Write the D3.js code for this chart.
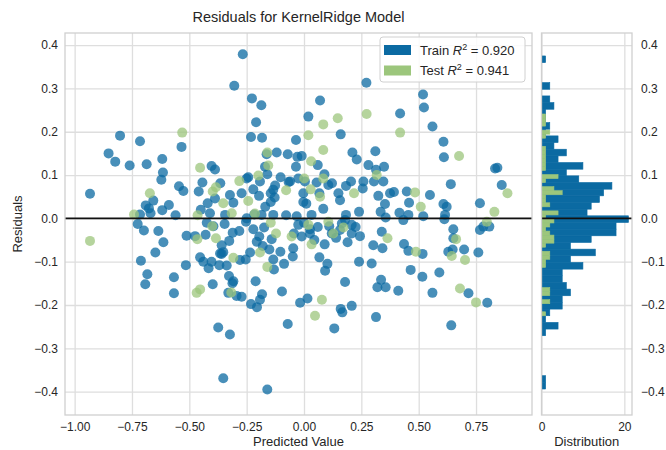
<!DOCTYPE html>
<html>
<head>
<meta charset="utf-8">
<script src="https://cdnjs.cloudflare.com/ajax/libs/d3/7.8.5/d3.min.js"></script>
<style>
  body { margin: 0; background: #fff; }
  text { font-family: "Liberation Sans", Arial, sans-serif; fill: #262626; }
</style>
</head>
<body>
<svg id="chart" width="666" height="450"></svg>
<script>
// predicted value, residual
var trainPoints = [
  [-0.267,0.379],[-0.304,0.306],[-0.227,0.277],[-0.186,0.261],[-0.209,0.222],[-0.231,0.188],[-0.183,0.186],[-0.035,0.181],
  [-0.802,0.191],[-0.715,0.178],[-0.534,0.165],[-0.852,0.150],[-0.823,0.131],[-0.760,0.122],[-0.686,0.125],[-0.618,0.137],
  [-0.615,0.106],[-0.622,0.089],[-0.403,0.121],[-0.388,0.113],[-0.163,0.148],[-0.119,0.152],[-0.071,0.148],[-0.029,0.142],
  [-0.170,0.119],[-0.035,0.119],[-0.243,0.095],[-0.250,0.092],[-0.160,0.102],[-0.102,0.095],[-0.192,0.085],[-0.067,0.084],
  [-0.025,0.092],[-0.933,0.057],[-0.545,0.074],[-0.526,0.063],[-0.443,0.083],[-0.459,0.062],[-0.365,0.081],[-0.420,0.035],
  [-0.388,0.046],[-0.323,0.054],[-0.308,0.036],[-0.272,0.058],[-0.221,0.067],[-0.196,0.052],[-0.145,0.058],[-0.126,0.076],
  [-0.134,0.066],[-0.061,0.085],[-0.657,0.041],[-0.676,0.023],[-0.618,0.019],[-0.589,0.031],[-0.715,0.009],[-0.669,0.012],
  [-0.344,0.008],[-0.217,0.009],[-0.185,0.008],[-0.134,0.008],[-0.078,0.007],[-0.032,0.005],[-0.145,0.038],[-0.169,0.027],
  [-0.128,0.048],[-0.690,0.030],[-0.560,0.007],[-0.450,0.020],[-0.410,0.012],
  [0.272,0.313],[0.070,0.272],[0.519,0.286],[0.523,0.256],[0.019,0.235],[0.419,0.242],[0.560,0.212],[0.160,0.194],
  [0.608,0.177],[0.610,0.141],[0.060,0.123],[0.211,0.152],[0.230,0.136],[0.311,0.155],[0.281,0.123],[0.314,0.112],
  [0.349,0.119],[0.089,0.102],[0.833,0.115],[0.843,0.117],[0.862,0.077],[0.640,0.079],[0.767,0.035],[0.004,0.085],
  [0.055,0.083],[0.106,0.077],[0.122,0.081],[0.183,0.075],[0.205,0.085],[0.259,0.085],[0.256,0.069],[0.305,0.085],
  [0.346,0.085],[-0.003,0.058],[0.067,0.058],[0.084,0.022],[0.150,0.058],[0.157,0.042],[0.240,0.015],[0.324,0.052],
  [0.353,0.033],[0.375,0.058],[0.392,0.061],[0.448,0.062],[0.458,0.036],[0.549,0.054],[0.608,0.033],[0.622,0.027],
  [0.033,0.008],[0.183,0.008],[0.334,0.015],[0.416,0.013],[0.455,0.008],[0.520,0.005],[0.615,0.008],[-0.003,0.038],
  [0.010,0.034],[-0.010,0.144],
  [0.356,0.002],[0.433,-0.004],[0.767,-0.027],[0.782,-0.019],[0.808,-0.019],[0.612,-0.002],[0.651,-0.025],[0.651,-0.046],
  [0.629,-0.077],[0.648,-0.072],[0.698,-0.072],[0.760,-0.079],[0.590,-0.125],[0.516,-0.135],[0.465,-0.119],[0.436,-0.059],
  [0.455,-0.075],[0.517,-0.082],[0.717,-0.173],[0.799,-0.195],[0.560,-0.172],[0.411,-0.167],[0.320,-0.159],[0.336,-0.142],
  [0.356,-0.159],[0.295,-0.104],[0.240,-0.100],[0.302,-0.062],[0.342,-0.069],[0.339,-0.031],[0.314,-0.228],[0.642,-0.247],
  [0.208,-0.202],[0.160,-0.209],[0.167,-0.217],[0.132,-0.254],[0.179,-0.147],[0.015,-0.185],[-0.017,-0.195],[0.092,-0.121],
  [0.102,-0.105],[0.067,-0.090],[0.208,-0.015],[0.244,-0.041],[0.179,-0.004],[0.165,-0.012],[0.157,-0.027],[0.121,-0.035],
  [0.026,-0.035],[0.026,-0.025],[-0.010,-0.042],[0.208,-0.035],[0.000,-0.010],[0.045,-0.050],[0.060,-0.020],[0.110,-0.018],
  [0.140,-0.045],[0.190,-0.055],[0.225,-0.020],[0.090,-0.060],
  [-0.711,-0.098],[-0.683,-0.129],[-0.692,-0.152],[-0.648,-0.079],[-0.613,-0.055],[-0.635,-0.029],[-0.698,-0.028],[-0.725,-0.013],
  [-0.567,-0.136],[-0.567,-0.173],[-0.515,-0.108],[-0.512,-0.040],[-0.475,-0.041],[-0.429,-0.038],[-0.453,-0.090],[-0.439,-0.100],
  [-0.416,-0.115],[-0.403,-0.100],[-0.369,-0.108],[-0.337,-0.109],[-0.366,-0.081],[-0.352,-0.078],[-0.326,-0.052],[-0.395,-0.018],
  [-0.424,-0.010],[-0.346,-0.013],[-0.311,-0.033],[-0.282,-0.029],[-0.398,-0.152],[-0.308,-0.145],[-0.312,-0.150],[-0.330,-0.172],
  [-0.294,-0.179],[-0.272,-0.181],[-0.279,-0.096],[-0.254,-0.095],[-0.235,-0.079],[-0.131,-0.118],[-0.211,-0.145],[-0.183,-0.175],
  [-0.192,-0.188],[-0.231,-0.198],[-0.205,-0.205],[-0.096,-0.169],[-0.071,-0.244],[-0.374,-0.252],[-0.323,-0.268],[-0.352,-0.369],
  [-0.160,-0.395],[-0.253,-0.008],[-0.221,-0.025],[-0.174,-0.021],[-0.195,-0.042],[-0.206,-0.054],[-0.180,-0.064],[-0.151,-0.072],
  [-0.141,-0.048],[-0.103,-0.077],[-0.134,-0.095],[-0.087,-0.105],[-0.049,-0.088],[-0.047,-0.069],[-0.044,-0.035],[-0.025,-0.015],
  [-0.250,0.000],[-0.359,-0.062],[-0.359,-0.082],[-0.327,-0.133]
];

var testPoints = [
  [-0.531,0.198],[-0.453,0.117],[-0.160,0.152],[-0.156,0.122],[-0.282,0.086],[-0.199,0.099],[-0.398,0.062],[-0.384,0.072],
  [-0.352,0.035],[-0.243,0.040],[-0.078,0.065],[-0.672,0.058],[-0.741,0.009],[-0.464,0.007],[-0.315,0.012],[-0.214,0.011],
  [0.273,0.241],[0.147,0.231],[0.084,0.217],[0.419,0.198],[0.019,0.192],[0.676,0.144],[0.084,0.158],[0.031,0.132],
  [0.317,0.100],[0.084,0.092],[0.830,0.015],[0.887,0.058],[0.001,0.092],[0.029,0.067],[0.070,0.050],[0.218,0.058],
  [0.484,0.060],[0.509,0.027],
  [0.797,-0.008],[0.663,-0.048],[0.644,-0.087],[0.702,-0.096],[0.488,-0.077],[0.680,-0.162],[0.750,-0.194],[0.364,-0.046],
  [0.078,-0.188],[0.048,-0.225],[0.128,-0.035],[0.172,-0.021],[0.106,-0.008],[0.033,-0.060],[-0.054,-0.042],[0.019,-0.015],
  [-0.933,-0.052],[-0.465,-0.048],[-0.308,-0.091],[-0.384,-0.046],[-0.400,-0.018],[-0.453,-0.164],[-0.468,-0.172],[-0.317,-0.171],
  [-0.192,-0.079],[-0.160,-0.112],[-0.145,-0.010],[-0.122,-0.035]
];

// train residual histogram, 50 bins, lowest bin first
var trainHistCounts = [1,1,0,0,0,0,0,0,1,4,1,2,5,5,7,6,5,5,10,7,13,7,12,18,18,21,11,12,14,15,17,9,6,10,4,6,3,4,1,2,1,1,3,2,0,2,0,0,0,1];
var trainHistRange = [-0.394, 0.375];
var histBins = 50;

var xTicks = [-1.00, -0.75, -0.50, -0.25, 0.00, 0.25, 0.50, 0.75];
var yTicks = [-0.4, -0.3, -0.2, -0.1, 0.0, 0.1, 0.2, 0.3, 0.4];
var histTicks = [0, 20];
var legendItems = [["Train", "0.920"], ["Test", "0.941"]];

var trainColor = "#0b6aa2", testColor = "#9cc67c";

var svg = d3.select("#chart");
var plot = {left: 65, right: 532, top: 33, bottom: 415};
var hist = {left: 541.5, right: 632};

var x = d3.scaleLinear().domain([-1.042, 0.994]).range([plot.left, plot.right]);
var y = d3.scaleLinear().domain([-0.454, 0.428]).range([plot.bottom, plot.top]);
var hx = d3.scaleLinear().domain([0, 21.85]).range([hist.left, hist.right]);

var gridColor = "#dedede", frameColor = "#d0d0d0";

////////////// GRIDS
function grid(g) { g.select(".domain").remove(); g.selectAll("line").attr("stroke", gridColor).attr("stroke-width", 1.3); }

svg.append("g")
  .attr("transform", "translate(0," + plot.bottom + ")")
  .call(d3.axisBottom(x).tickValues(xTicks).tickSize(-(plot.bottom - plot.top)).tickFormat(""))
  .call(grid);

svg.append("g")
  .attr("transform", "translate(" + plot.left + ",0)")
  .call(d3.axisLeft(y).tickValues(yTicks).tickSize(-(plot.right - plot.left)).tickFormat(""))
  .call(grid);

svg.append("g")
  .attr("transform", "translate(0," + plot.bottom + ")")
  .call(d3.axisBottom(hx).tickValues(histTicks).tickSize(-(plot.bottom - plot.top)).tickFormat(""))
  .call(grid);

svg.append("g")
  .attr("transform", "translate(" + hist.left + ",0)")
  .call(d3.axisLeft(y).tickValues(yTicks).tickSize(-(hist.right - hist.left)).tickFormat(""))
  .call(grid);

////////////// HISTOGRAMS
var binW = (trainHistRange[1] - trainHistRange[0]) / histBins;
svg.append("g").selectAll("rect")
  .data(trainHistCounts.map(function (c, i) { return {x0: trainHistRange[0] + i * binW, x1: trainHistRange[0] + (i + 1) * binW, n: c}; })
    .filter(function (d) { return d.n > 0; }))
  .join("rect")
  .attr("x", hx(0))
  .attr("y", function (d) { return y(d.x1); })
  .attr("width", function (d) { return hx(d.n) - hx(0); })
  .attr("height", function (d) { return y(d.x0) - y(d.x1); })
  .style("fill", trainColor)
  .style("stroke", trainColor)
  .style("stroke-width", 0.6);

var testRes = testPoints.map(function (d) { return d[1]; });
var tExt = d3.extent(testRes);
var tW = (tExt[1] - tExt[0]) / histBins;
var testBins = d3.bin().domain(tExt)
  .thresholds(d3.range(1, histBins).map(function (i) { return tExt[0] + i * tW; }))(testRes);

svg.append("g").selectAll("rect")
  .data(testBins.filter(function (b) { return b.length > 0; }))
  .join("rect")
  .attr("x", hx(0))
  .attr("y", function (d) { return y(d.x1); })
  .attr("width", function (d) { return hx(d.length) - hx(0); })
  .attr("height", function (d) { return y(d.x0) - y(d.x1); })
  .style("fill", testColor)
  .style("stroke", testColor)
  .style("stroke-width", 0.6);

////////////// SCATTER
svg.append("g").selectAll("circle")
  .data(trainPoints)
  .join("circle")
  .attr("cx", function (d) { return x(d[0]); })
  .attr("cy", function (d) { return y(d[1]); })
  .attr("r", 5)
  .style("fill", trainColor)
  .style("fill-opacity", 0.75);

svg.append("g").selectAll("circle")
  .data(testPoints)
  .join("circle")
  .attr("cx", function (d) { return x(d[0]); })
  .attr("cy", function (d) { return y(d[1]); })
  .attr("r", 5)
  .style("fill", testColor)
  .style("fill-opacity", 0.75);

////////////// ZERO LINES + FRAMES
[[plot.left, plot.right], [hist.left, hist.right]].forEach(function (p) {
  svg.append("line")
    .attr("x1", p[0]).attr("x2", p[1])
    .attr("y1", y(0)).attr("y2", y(0))
    .style("stroke", "#111").style("stroke-width", 1.8);
  svg.append("rect")
    .attr("x", p[0]).attr("y", plot.top)
    .attr("width", p[1] - p[0]).attr("height", plot.bottom - plot.top)
    .style("fill", "none").style("stroke", frameColor).style("stroke-width", 1.3);
});

////////////// TICK LABELS
function labels(g) { g.select(".domain").remove(); g.selectAll("line").remove(); g.selectAll("text").style("font-size", "12px").attr("fill", "#262626"); }

svg.append("g")
  .attr("transform", "translate(0," + plot.bottom + ")")
  .call(d3.axisBottom(x).tickValues(xTicks).tickSize(0).tickPadding(7).tickFormat(d3.format(".2f")))
  .call(labels);

svg.append("g")
  .attr("transform", "translate(" + plot.left + ",0)")
  .call(d3.axisLeft(y).tickValues(yTicks).tickSize(0).tickPadding(7).tickFormat(d3.format(".1f")))
  .call(labels);

svg.append("g")
  .attr("transform", "translate(0," + plot.bottom + ")")
  .call(d3.axisBottom(hx).tickValues(histTicks).tickSize(0).tickPadding(7).tickFormat(d3.format("d")))
  .call(labels);

svg.append("g")
  .attr("transform", "translate(" + hist.right + ",0)")
  .call(d3.axisRight(y).tickValues(yTicks).tickSize(0).tickPadding(9).tickFormat(d3.format(".1f")))
  .call(labels);

////////////// TITLES
svg.append("text")
  .attr("x", (plot.left + plot.right) / 2).attr("y", 22)
  .style("text-anchor", "middle").style("font-size", "14.5px")
  .text("Residuals for KernelRidge Model");

svg.append("text")
  .attr("x", (plot.left + plot.right) / 2).attr("y", 446)
  .style("text-anchor", "middle").style("font-size", "13px")
  .text("Predicted Value");

svg.append("text")
  .attr("x", (hist.left + hist.right) / 2).attr("y", 446)
  .style("text-anchor", "middle").style("font-size", "13px")
  .text("Distribution");

svg.append("text")
  .attr("transform", "translate(22," + (plot.top + plot.bottom) / 2 + ") rotate(-90)")
  .style("text-anchor", "middle").style("font-size", "13px")
  .text("Residuals");

////////////// LEGEND
var leg = svg.append("g").attr("transform", "translate(380,37)");
leg.append("rect")
  .attr("width", 145).attr("height", 45).attr("rx", 3)
  .style("fill", "#fff").style("fill-opacity", 0.85)
  .style("stroke", "#d0d0d0").style("stroke-width", 1);

legendItems.forEach(function (it, i) {
  var yy = 8 + i * 20.5;
  leg.append("rect")
    .attr("x", 4).attr("y", yy).attr("width", 27).attr("height", 10)
    .style("fill", i === 0 ? trainColor : testColor);
  var t = leg.append("text").attr("x", 40).attr("y", yy + 9.5).style("font-size", "13px");
  t.append("tspan").text(it[0] + " ");
  t.append("tspan").style("font-style", "italic").text("R");
  t.append("tspan").attr("dy", -5).style("font-size", "9px").text("2");
  t.append("tspan").attr("dy", 5).text(" = " + it[1]);
});
</script>
</body>
</html>
